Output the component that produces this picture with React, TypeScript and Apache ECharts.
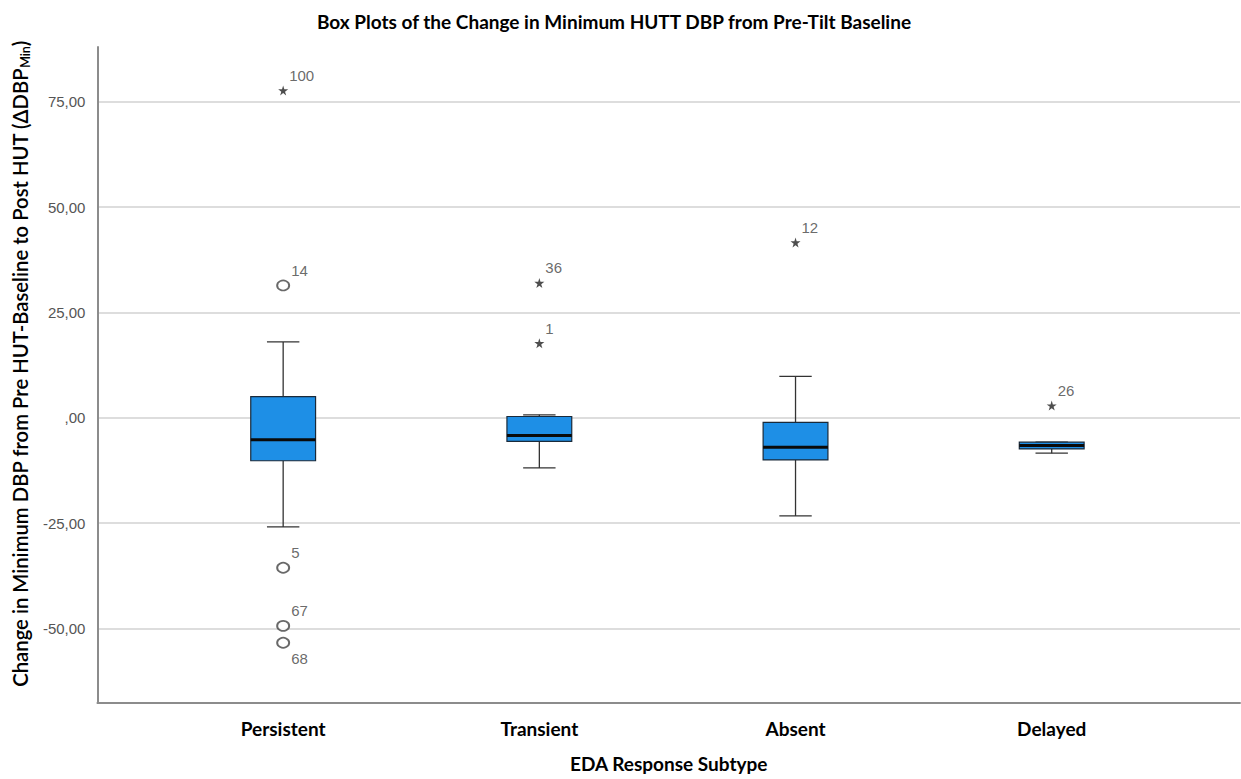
import React, { useEffect, useRef } from "react";
import * as echarts from "echarts";

const categories = ["Persistent", "Transient", "Absent", "Delayed"];
// [min whisker, Q1, median, Q3, max whisker]
const boxStats = [
  [-25.9, -10.2, -5.2, 5.0, 18.0],
  [-11.9, -5.6, -4.2, 0.3, 0.7],
  [-23.3, -10.0, -7.0, -1.1, 9.8],
  [-8.4, -7.4, -6.6, -5.8, -5.8],
];
// outliers: [category index, value, case label]
const circleOutliers: [number, number, string][] = [
  [0, 31.4, "14"],
  [0, -35.6, "5"],
  [0, -49.4, "67"],
  [0, -53.4, "68"],
];
const starOutliers: [number, number, string][] = [
  [0, 77.7, "100"],
  [1, 32.0, "36"],
  [1, 17.7, "1"],
  [2, 41.6, "12"],
  [3, 2.9, "26"],
];
const yTicks = [-50, -25, 0, 25, 50, 75];
const xTicks = [0, 1, 2, 3];
const belowLabels = ["68"];

const STAR =
  "path://M50,0 L61,35 L98,35 L68,57 L79,91 L50,70 L21,91 L32,57 L2,35 L39,35 Z";

const fmtY = (v: number) => (v === 0 ? ",00" : v.toFixed(2).replace(".", ","));

export default function App() {
  const ref = useRef<HTMLDivElement>(null);
  useEffect(() => {
    if (!ref.current) return;
    const chart = echarts.init(ref.current, null, { renderer: "svg" });
    const labelFor = (name: string) => ({
      show: true,
      formatter: name,
      position: "right",
      distance: 0,
      offset: belowLabels.includes(name) ? [1, 16] : [1, -15],
      color: "#444",
      fontSize: 15,
      fontFamily: "Liberation Sans, Arial, sans-serif",
    });
    const option: any = {
      animation: false,
      backgroundColor: "#fff",
      title: {
        text: "Box Plots of the Change in Minimum HUTT DBP from Pre-Tilt Baseline",
        left: 609,
        top: 7,
        textAlign: "center",
        textStyle: {
          fontFamily: "Lato, sans-serif",
          fontWeight: "bold",
          fontSize: 19,
          color: "#000",
        },
      },
      grid: { left: 95, right: 1, top: 47, bottom: 76, containLabel: false },
      xAxis: {
        type: "value",
        min: -0.725,
        max: 3.735,
        name: "EDA Response Subtype",
        nameLocation: "middle",
        nameGap: 51,
        nameTextStyle: {
          fontFamily: "Lato, sans-serif",
          fontWeight: "bold",
          fontSize: 19,
          color: "#000",
        },
        axisLine: { show: true, onZero: false, lineStyle: { color: "#8c8c8c", width: 2 } },
        axisTick: { show: false, customValues: xTicks },
        splitLine: { show: false },
        axisLabel: {
          customValues: xTicks,
          formatter: (v: number) => categories[Math.round(v)] ?? "",
          margin: 16,
          fontFamily: "Lato, sans-serif",
          fontWeight: "bold",
          fontSize: 19,
          color: "#000",
        },
      },
      yAxis: {
        type: "value",
        min: -67.7,
        max: 88,
        name: "Change in Minimum DBP from Pre HUT-Baseline to Post HUT (ΔDBP{sub|Min})",
        nameLocation: "middle",
        nameGap: 64,
        nameTextStyle: {
          fontFamily: "Lato, sans-serif",
          fontSize: 20.3,
          fontWeight: 600,
          color: "#000",
          lineHeight: 24,
          padding: [0, 0, 0, 22],
          rich: {
            sub: { fontSize: 12.5, fontWeight: 600, verticalAlign: "bottom", lineHeight: 12, fontFamily: "Lato, sans-serif", color: "#000" },
          },
        },
        axisLine: { show: true, onZero: false, lineStyle: { color: "#8c8c8c", width: 2 } },
        axisTick: { show: false, customValues: yTicks },
        splitLine: { show: true, lineStyle: { color: "#d2d2d2", width: 1.5 } },
        axisLabel: {
          customValues: yTicks,
          formatter: fmtY,
          margin: 12,
          fontFamily: "Liberation Sans, Arial, sans-serif",
          fontSize: 15,
          color: "#555",
        },
      },
      series: [
        {
          type: "custom",
          data: boxStats.map((s, i) => [i, ...s]),
          encode: { x: 0, y: [1, 2, 3, 4, 5] },
          renderItem: (params: any, api: any) => {
            const x = api.value(0);
            const vals = [1, 2, 3, 4, 5].map((k) => api.value(k));
            const pts = vals.map((v: number) => api.coord([x, v]));
            const cx = pts[0][0];
            const bw = api.size([0.253, 0])[0];
            const half = bw / 2;
            const cap = bw / 4;
            const line = { stroke: "#333", lineWidth: 1.3 };
            return {
              type: "group",
              children: [
                { type: "line", shape: { x1: cx, y1: pts[0][1], x2: cx, y2: pts[1][1] }, style: line },
                { type: "line", shape: { x1: cx, y1: pts[3][1], x2: cx, y2: pts[4][1] }, style: line },
                { type: "line", shape: { x1: cx - cap, y1: pts[0][1], x2: cx + cap, y2: pts[0][1] }, style: line },
                { type: "line", shape: { x1: cx - cap, y1: pts[4][1], x2: cx + cap, y2: pts[4][1] }, style: line },
                {
                  type: "rect",
                  shape: { x: cx - half, y: pts[3][1], width: bw, height: pts[1][1] - pts[3][1] },
                  style: { fill: "#1E8FE6", stroke: "#1a2a3a", lineWidth: 1.2 },
                },
                {
                  type: "line",
                  shape: { x1: cx - half, y1: pts[2][1], x2: cx + half, y2: pts[2][1] },
                  style: { stroke: "#0a0a0a", lineWidth: 3 },
                },
              ],
            };
          },
        },
        {
          type: "scatter",
          symbol: "circle",
          symbolSize: [12, 10],
          itemStyle: { color: "#fff", borderColor: "#444", borderWidth: 1.8 },
          data: circleOutliers.map(([i, v, n]) => ({ value: [i, v], label: labelFor(n) })),
        },
        {
          type: "scatter",
          symbol: STAR,
          symbolSize: 10,
          itemStyle: { color: "#222" },
          data: starOutliers.map(([i, v, n]) => ({ value: [i, v], label: labelFor(n) })),
        },
      ],
    };
    chart.setOption(option);
    return () => chart.dispose();
  }, []);
  return (
    <div
      ref={ref}
      style={{ position: "fixed", left: 0, top: 0, width: 1241, height: 779, background: "#fff" }}
    />
  );
}
